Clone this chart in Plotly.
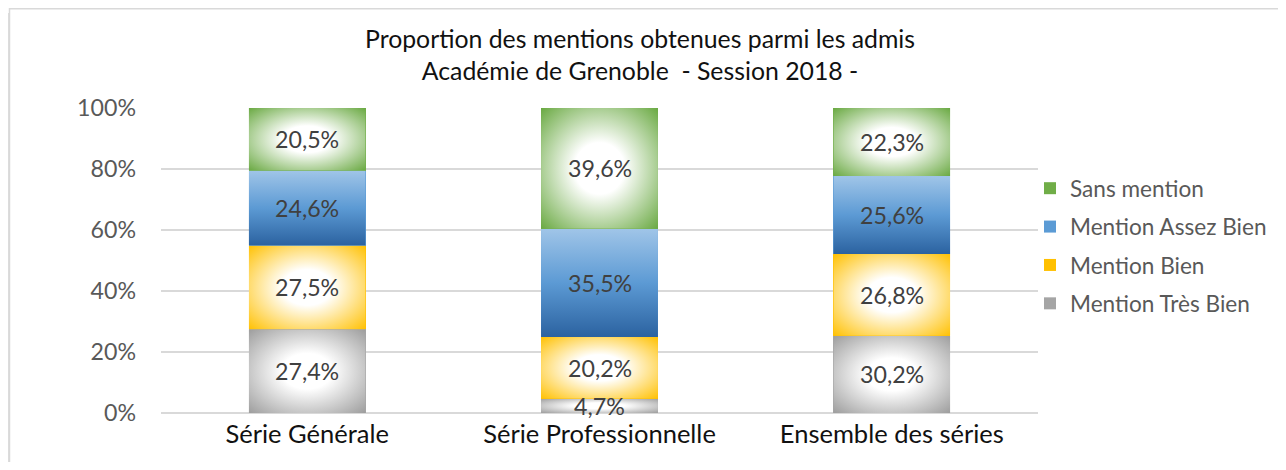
import base64
import plotly.graph_objects as go

# ---------------- data ----------------
categories = ["Série Générale", "Série Professionnelle", "Ensemble des séries"]
series_names = ["Mention Très Bien", "Mention Bien", "Mention Assez Bien", "Sans mention"]
tres_bien = [27.4, 4.7, 25.3]          # segment heights (%)
tres_bien_printed = [27.4, 4.7, 30.2]  # values printed on the segments
bien = [27.5, 20.2, 26.8]
assez_bien = [24.6, 35.5, 25.6]
sans_mention = [20.5, 39.6, 22.3]
y_ticks = [0, 20, 40, 60, 80, 100]
y_tick_labels = ["0%", "20%", "40%", "60%", "80%", "100%"]
title_lines = ["Proportion des mentions obtenues parmi les admis",
               "Académie de Grenoble  - Session 2018 -"]

# ---------------- style ----------------
FONT = "Lato"
W, H = 1270, 454          # page body has an 8px margin
L, R, T, B = 153, 240, 100, 49
PW, PH = W - L - R, H - T - B
BAR_W = 0.4
base_colors = ["#A5A5A5", "#FFC000", "#5B9BD5", "#70AD47"]


def svg_uri(svg):
    return "data:image/svg+xml;base64," + base64.b64encode(svg.encode()).decode()


def radial_svg(color):
    return svg_uri(
        '<svg xmlns="http://www.w3.org/2000/svg" width="100" height="100" '
        'viewBox="0 0 100 100" preserveAspectRatio="none"><defs>'
        '<radialGradient id="g" cx="50%" cy="50%" r="71%">'
        '<stop offset="0" stop-color="#ffffff"/>'
        '<stop offset="0.3" stop-color="#ffffff"/>'
        f'<stop offset="1" stop-color="{color}"/>'
        '</radialGradient></defs>'
        '<rect x="0" y="0" width="100" height="100" fill="url(#g)"/></svg>')


def linear_svg(stops, horizontal=False):
    s = "".join(f'<stop offset="{o}" stop-color="{c}"/>' for o, c in stops)
    d = 'x1="0" y1="0" x2="1" y2="0"' if horizontal else 'x1="0" y1="0" x2="0" y2="1"'
    return svg_uri(
        '<svg xmlns="http://www.w3.org/2000/svg" width="100" height="100" '
        'viewBox="0 0 100 100" preserveAspectRatio="none"><defs>'
        f'<linearGradient id="g" {d}>{s}</linearGradient></defs>'
        '<rect x="0" y="0" width="100" height="100" fill="url(#g)"/></svg>')


fills = [
    radial_svg("#9C9C9C"),
    radial_svg("#FFC000"),
    linear_svg([(0, "#A0C5E8"), (0.5, "#5C9AD4"), (1, "#2B62A0")]),
    radial_svg("#68A840"),
]

series_vals = [tres_bien, bien, assez_bien, sans_mention]
series_printed = [tres_bien_printed, bien, assez_bien, sans_mention]


def fmt(v):
    return f"{v:.1f}".replace(".", ",") + "%"


fig = go.Figure()
n = len(series_names)
for k, (name, vals, col) in enumerate(zip(series_names, series_vals, base_colors)):
    fig.add_trace(go.Bar(
        x=categories, y=vals, name=name, width=BAR_W,
        marker=dict(color=col, line=dict(width=0)),
        legendgroup=name, legendrank=n - k, hoverinfo="skip",
    ))

images = []
annotations = []
bottoms = [0.0] * len(categories)
for vals, printed, img in zip(series_vals, series_printed, fills):
    for i, (v, p) in enumerate(zip(vals, printed)):
        top = bottoms[i] + v
        images.append(dict(
            source=img, xref="x", yref="y", x=i - BAR_W / 2, y=top,
            sizex=BAR_W, sizey=v, xanchor="left", yanchor="top",
            sizing="stretch", layer="above"))
        annotations.append(dict(
            x=i, y=bottoms[i] + v / 2, xref="x", yref="y", text=fmt(p),
            showarrow=False, font=dict(family=FONT, size=23.2, color="#404040")))
        bottoms[i] = top


def px_x(px):
    return (px - L) / PW


def px_y(py):
    return (H - B - py) / PH


shadow = linear_svg([(0, "#f4f4f4"), (1, "#b0b0b0")], horizontal=True)
images.append(dict(source=shadow, xref="paper", yref="paper",
                   x=px_x(0), y=px_y(5), sizex=px_x(1.5) - px_x(0),
                   sizey=px_y(5) - px_y(H + 5), xanchor="left", yanchor="top",
                   sizing="stretch", layer="below"))

shapes = [dict(type="rect", xref="paper", yref="paper",
               x0=px_x(1.5), x1=px_x(W + 20), y0=px_y(0.7), y1=px_y(H + 20),
               line=dict(color="#D9D9D9", width=1.5), fillcolor="rgba(0,0,0,0)",
               layer="below")]

fig.update_layout(
    width=W, height=H,
    margin=dict(l=L, r=R, t=T, b=B, autoexpand=False),
    paper_bgcolor="white", plot_bgcolor="white",
    barmode="stack",
    font=dict(family=FONT, size=22, color="#595959"),
    title=dict(text="<br>".join(title_lines), x=632 / W, xanchor="center",
               xref="container", yref="container",
               y=1 - 40 / H, yanchor="top",
               font=dict(family=FONT, size=24.8, color="#111111")),
    showlegend=True,
    legend=dict(x=px_x(1022), xanchor="left", y=px_y(159), yanchor="top",
                traceorder="grouped", tracegroupgap=6,
                font=dict(family=FONT, size=22.6, color="#595959"),
                bgcolor="rgba(0,0,0,0)"),
    images=images, annotations=annotations, shapes=shapes,
)
fig.update_xaxes(type="category", showgrid=False, showline=False, ticks="",
                 tickfont=dict(family=FONT, size=25.5, color="#111111"),
                 ticklabelstandoff=3, range=[-0.5, 2.5])
fig.update_yaxes(range=[0, 100], tickvals=y_ticks, ticktext=y_tick_labels,
                 showgrid=True, gridcolor="#D9D9D9", gridwidth=1.5,
                 zeroline=True, zerolinecolor="#D9D9D9", zerolinewidth=1.5,
                 showline=False, ticks="", ticklabelstandoff=24,
                 tickfont=dict(family=FONT, size=23.2, color="#595959"))

fig.write_html("out.html")
